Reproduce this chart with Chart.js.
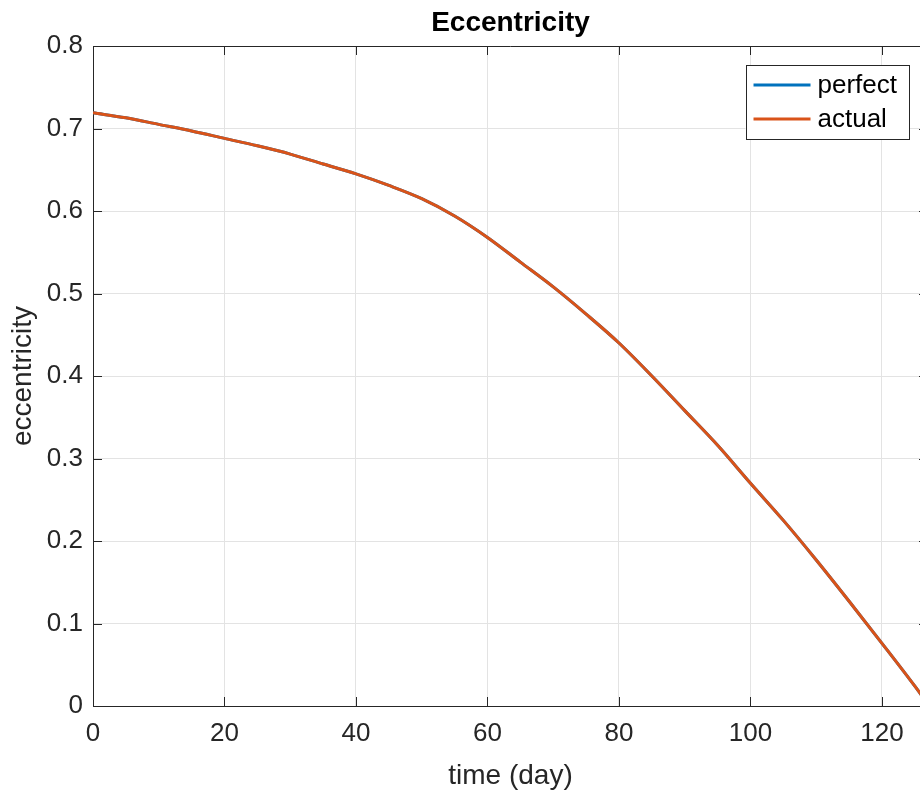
<!DOCTYPE html>
<html lang="en">
<head>
    <meta charset="UTF-8">
    <title>Eccentricity</title>
    <script src="https://cdn.jsdelivr.net/npm/chart.js"></script>
    <style>
        html, body { margin: 0; padding: 0; background: #fff; overflow: hidden; }
        canvas { display: block; }
    </style>
</head>
<body>
    <canvas id="eccChart" width="930" height="793"></canvas>
    <script>
        // values
        const days = [0, 5, 10, 15, 20, 25, 30, 35, 40, 45, 50, 55, 60, 65, 70, 75, 80, 85, 90, 95, 100, 105, 110, 115, 120, 125, 127];
        const perfect = [0.719, 0.713, 0.705, 0.697, 0.688, 0.679, 0.669, 0.657, 0.645, 0.631, 0.615, 0.594, 0.568, 0.538, 0.508, 0.475, 0.440, 0.400, 0.358, 0.316, 0.270, 0.225, 0.177, 0.127, 0.076, 0.024, 0.002];
        const actual = [0.719, 0.713, 0.705, 0.697, 0.688, 0.679, 0.669, 0.657, 0.645, 0.631, 0.615, 0.594, 0.568, 0.538, 0.508, 0.475, 0.440, 0.400, 0.358, 0.316, 0.270, 0.225, 0.177, 0.127, 0.076, 0.024, 0.002];
        const xTicks = [0, 20, 40, 60, 80, 100, 120];
        const yTicks = [0, 0.1, 0.2, 0.3, 0.4, 0.5, 0.6, 0.7, 0.8];

        const axisColor = '#262626';
        const fontFamily = '"Liberation Sans", Arial, Helvetica, sans-serif';

        // MATLAB style box: top/right border and inward ticks on all sides
        const boxPlugin = {
            id: 'box',
            afterDraw(chart) {
                const ctx = chart.ctx;
                const a = chart.chartArea;
                const xs = chart.scales.x, ys = chart.scales.y;
                const len = 9;
                ctx.save();
                ctx.strokeStyle = axisColor;
                ctx.lineWidth = 1;
                ctx.beginPath();
                ctx.moveTo(a.left, a.top + 0.5);
                ctx.lineTo(a.right, a.top + 0.5);
                ctx.moveTo(a.right - 0.5, a.top);
                ctx.lineTo(a.right - 0.5, a.bottom);
                xTicks.forEach(v => {
                    const px = Math.round(xs.getPixelForValue(v)) + 0.5;
                    ctx.moveTo(px, a.bottom);
                    ctx.lineTo(px, a.bottom - len);
                    ctx.moveTo(px, a.top);
                    ctx.lineTo(px, a.top + len);
                });
                yTicks.forEach(v => {
                    const py = Math.round(ys.getPixelForValue(v)) + 0.5;
                    ctx.moveTo(a.left, py);
                    ctx.lineTo(a.left + len, py);
                    ctx.moveTo(a.right, py);
                    ctx.lineTo(a.right - len, py);
                });
                ctx.stroke();
                ctx.restore();
            }
        };

        // legend box in the upper right corner of the axes
        const legendPlugin = {
            id: 'boxLegend',
            afterDraw(chart) {
                const ctx = chart.ctx;
                const a = chart.chartArea;
                const sets = chart.data.datasets;
                ctx.save();
                ctx.font = '26px ' + fontFamily;
                const textW = Math.max(...sets.map(d => ctx.measureText(d.label).width));
                const lineLen = 57, padL = 8, gap = 7, padR = 12, rowH = 34, padV = 20;
                const w = padL + lineLen + gap + textW + padR;
                const h = padV * 2 + rowH * (sets.length - 1);
                const right = a.right - 19, top = a.top + 19;
                const left = right - w;
                ctx.fillStyle = '#fff';
                ctx.fillRect(left, top, w, h);
                ctx.strokeStyle = axisColor;
                ctx.lineWidth = 1;
                ctx.strokeRect(Math.round(left) + 0.5, top + 0.5, Math.round(w), h);
                sets.forEach((d, i) => {
                    const y = top + padV + i * rowH;
                    ctx.strokeStyle = d.borderColor;
                    ctx.lineWidth = 3;
                    ctx.beginPath();
                    ctx.moveTo(left + padL, y);
                    ctx.lineTo(left + padL + lineLen, y);
                    ctx.stroke();
                    ctx.fillStyle = '#000';
                    ctx.textBaseline = 'middle';
                    ctx.fillText(d.label, left + padL + lineLen + gap, y + 1);
                });
                ctx.restore();
            }
        };

        const ctx = document.getElementById('eccChart').getContext('2d');
        new Chart(ctx, {
            type: 'line',
            data: {
                labels: days,
                datasets: [
                    {
                        label: 'perfect',
                        data: days.map((d, i) => ({ x: d, y: perfect[i] })),
                        borderColor: '#0072BD',
                        borderWidth: 3,
                        pointRadius: 0,
                        cubicInterpolationMode: 'monotone',
                        fill: false,
                        order: 2
                    },
                    {
                        label: 'actual',
                        data: days.map((d, i) => ({ x: d, y: actual[i] })),
                        borderColor: '#D95319',
                        borderWidth: 3,
                        pointRadius: 0,
                        cubicInterpolationMode: 'monotone',
                        fill: false,
                        order: 1
                    }
                ]
            },
            options: {
                responsive: false,
                animation: false,
                layout: { padding: { right: 2 } },
                scales: {
                    x: {
                        type: 'linear',
                        min: 0,
                        max: 127,
                        afterBuildTicks: s => { s.ticks = xTicks.map(v => ({ value: v })); },
                        afterFit: s => { s.height = 87; },
                        grid: { color: '#e3e3e3', drawTicks: false },
                        border: { display: true, color: axisColor, width: 1 },
                        ticks: {
                            padding: 12,
                            color: axisColor,
                            maxRotation: 0,
                            font: { family: fontFamily, size: 26 }
                        },
                        title: {
                            display: true,
                            text: 'time (day)',
                            color: axisColor,
                            padding: { top: 0, bottom: 0 },
                            font: { family: fontFamily, size: 28 }
                        }
                    },
                    y: {
                        min: 0,
                        max: 0.8,
                        afterBuildTicks: s => { s.ticks = yTicks.map(v => ({ value: v })); },
                        afterFit: s => { s.width = 93; },
                        grid: { color: '#e3e3e3', drawTicks: false },
                        border: { display: true, color: axisColor, width: 1 },
                        ticks: {
                            padding: 10,
                            color: axisColor,
                            font: { family: fontFamily, size: 26 },
                            callback: v => v === 0 ? '0' : v.toFixed(1)
                        },
                        title: {
                            display: true,
                            text: 'eccentricity',
                            color: axisColor,
                            padding: { top: 6, bottom: 0 },
                            font: { family: fontFamily, size: 28 }
                        }
                    }
                },
                plugins: {
                    legend: { display: false },
                    tooltip: { enabled: false },
                    title: {
                        display: true,
                        text: 'Eccentricity',
                        color: '#000',
                        fullSize: false,
                        padding: { top: 6, bottom: 6.4 },
                        font: { family: fontFamily, size: 28, weight: 'bold' }
                    }
                }
            },
            plugins: [boxPlugin, legendPlugin]
        });
    </script>
</body>
</html>
